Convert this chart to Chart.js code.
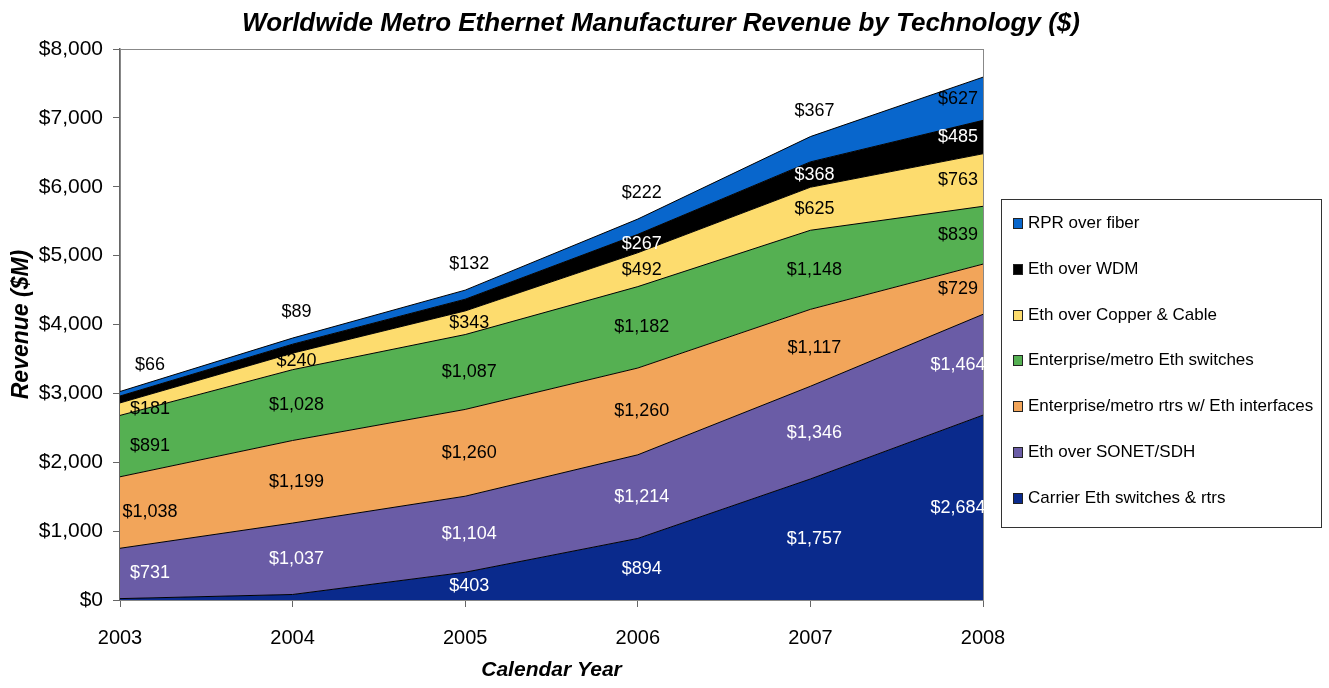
<!DOCTYPE html>
<html>
<head>
<meta charset="utf-8">
<script src="https://cdn.jsdelivr.net/npm/chart.js@4"></script>
<style>
  body { margin: 0; background: #fff; }
  #wrap { position: relative; width: 1329px; height: 688px; }
  #legend { position: absolute; left: 1001px; top: 199px; width: 319px; height: 327px;
            border: 1px solid #333; font: 17px "Liberation Sans", Arial, sans-serif; }
  #legend div { position: absolute; left: 11px; height: 20px; line-height: 20px; white-space: nowrap; }
  #legend span { display: inline-block; width: 8px; height: 9px; border: 1px solid #222; margin-right: 5px; vertical-align: -1px; }
</style>
</head>
<body>
<div id="wrap">
  <canvas id="chart" width="1329" height="688"></canvas>
  <div id="legend"></div>
</div>
<script>
// revenue by technology, $M, bottom of the stack first
const years = ['2003', '2004', '2005', '2006', '2007', '2008'];
const carrier = [20, 80, 403, 894, 1757, 2684];
const sonet = [731, 1037, 1104, 1214, 1346, 1464];
const entRouters = [1038, 1199, 1260, 1260, 1117, 729];
const entSwitches = [891, 1028, 1087, 1182, 1148, 839];
const copper = [181, 240, 343, 492, 625, 763];
const wdm = [100, 130, 170, 267, 368, 485];
const rpr = [66, 89, 132, 222, 367, 627];
const yTicks = [0, 1000, 2000, 3000, 4000, 5000, 6000, 7000, 8000];

const FONT = '"Liberation Sans", Arial, sans-serif';
const TITLE = 'Worldwide Metro Ethernet Manufacturer Revenue by Technology ($)';

const series = [
  { label: 'Carrier Eth switches & rtrs', data: carrier, color: '#0a2a8c', text: '#fff' },
  { label: 'Eth over SONET/SDH', data: sonet, color: '#6a5ca6', text: '#fff' },
  { label: 'Enterprise/metro rtrs w/ Eth interfaces', data: entRouters, color: '#f2a55a', text: '#000' },
  { label: 'Enterprise/metro Eth switches', data: entSwitches, color: '#55b052', text: '#000' },
  { label: 'Eth over Copper & Cable', data: copper, color: '#fddc6e', text: '#000' },
  { label: 'Eth over WDM', data: wdm, color: '#000', text: '#fff' },
  { label: 'RPR over fiber', data: rpr, color: '#0866cc', text: '#000' }
];

// value labels in the middle of each band; RPR sits above the stack
const bandLabels = {
  id: 'bandLabels',
  afterDatasetsDraw(chart) {
    const ctx = chart.ctx;
    const n = chart.data.datasets.length;
    const base = chart.scales.y.getPixelForValue(0);
    ctx.save();
    ctx.font = '18px ' + FONT;
    ctx.textAlign = 'center';
    ctx.textBaseline = 'middle';
    chart.data.datasets.forEach((ds, i) => {
      const pts = chart.getDatasetMeta(i).data;
      const below = i ? chart.getDatasetMeta(i - 1).data : null;
      pts.forEach((pt, j) => {
        const bottom = below ? below[j].y : base;
        const last = j === pts.length - 1;
        let y = (pt.y + bottom) / 2;
        if (i === n - 1 && !last) y = pt.y - 26;
        else if (bottom - pt.y < 12) return;
        const x = pt.x + (j === 0 ? 30 : last ? -25 : 4);
        ctx.fillStyle = ds.labelColor;
        ctx.fillText('$' + ds.data[j].toLocaleString('en-US'), x, y);
      });
    });
    ctx.restore();
  }
};

// grey frame round the plot area, title centred on the whole canvas
const plotFrame = {
  id: 'plotFrame',
  beforeDatasetsDraw(chart) {
    const a = chart.chartArea, ctx = chart.ctx;
    ctx.save();
    ctx.strokeStyle = '#888';
    ctx.lineWidth = 1;
    ctx.strokeRect(a.left + 0.5, a.top + 0.5, a.right - a.left, a.bottom - a.top);
    ctx.restore();
  },
  afterDraw(chart) {
    const ctx = chart.ctx;
    ctx.save();
    ctx.font = 'italic bold 26px ' + FONT;
    ctx.fillStyle = '#000';
    ctx.textAlign = 'center';
    ctx.textBaseline = 'middle';
    ctx.fillText(TITLE, 661, 24);
    ctx.restore();
  }
};

new Chart(document.getElementById('chart'), {
  type: 'line',
  data: {
    labels: years,
    datasets: series.map((s, i) => ({
      label: s.label,
      data: s.data,
      backgroundColor: s.color,
      borderColor: '#000',
      borderWidth: 1,
      pointRadius: 0,
      tension: 0,
      fill: i === 0 ? 'origin' : '-1',
      labelColor: s.text
    }))
  },
  options: {
    responsive: false,
    animation: false,
    layout: { padding: { right: 346, top: 49, bottom: 0, left: 0 } },
    plugins: {
      legend: { display: false },
      tooltip: { enabled: false },
      title: { display: false }
    },
    scales: {
      x: {
        offset: false,
        grid: { drawOnChartArea: false, tickLength: 7, color: '#666' },
        border: { color: '#666' },
        ticks: { color: '#000', font: { family: FONT, size: 20 }, padding: 19, maxRotation: 0 },
        title: { display: true, text: 'Calendar Year', color: '#000',
                 font: { family: FONT, size: 21, weight: 'bold', style: 'italic' }, padding: { top: 0, bottom: 5 } },
        afterFit(s) { s.height = 88; }
      },
      y: {
        stacked: true,
        min: 0,
        max: 8000,
        grid: { drawOnChartArea: false, tickLength: 7, color: '#666' },
        border: { color: '#666', width: 1.5 },
        afterBuildTicks(s) { s.ticks = yTicks.map(v => ({ value: v })); },
        ticks: { color: '#000', font: { family: FONT, size: 21 }, padding: 10,
                 callback: v => '$' + v.toLocaleString('en-US') },
        title: { display: true, text: 'Revenue ($M)', color: '#000',
                 font: { family: FONT, size: 23, weight: 'bold', style: 'italic' }, padding: { top: 8, bottom: 0 } },
        afterFit(s) { s.width = 120; }
      }
    }
  },
  plugins: [plotFrame, bandLabels]
});

// legend, top of the stack first
const legend = document.getElementById('legend');
series.slice().reverse().forEach((s, k) => {
  const row = document.createElement('div');
  row.style.top = (13 + k * 45.8) + 'px';
  row.innerHTML = '<span style="background:' + s.color + '"></span>' + s.label;
  legend.appendChild(row);
});
</script>
</body>
</html>
